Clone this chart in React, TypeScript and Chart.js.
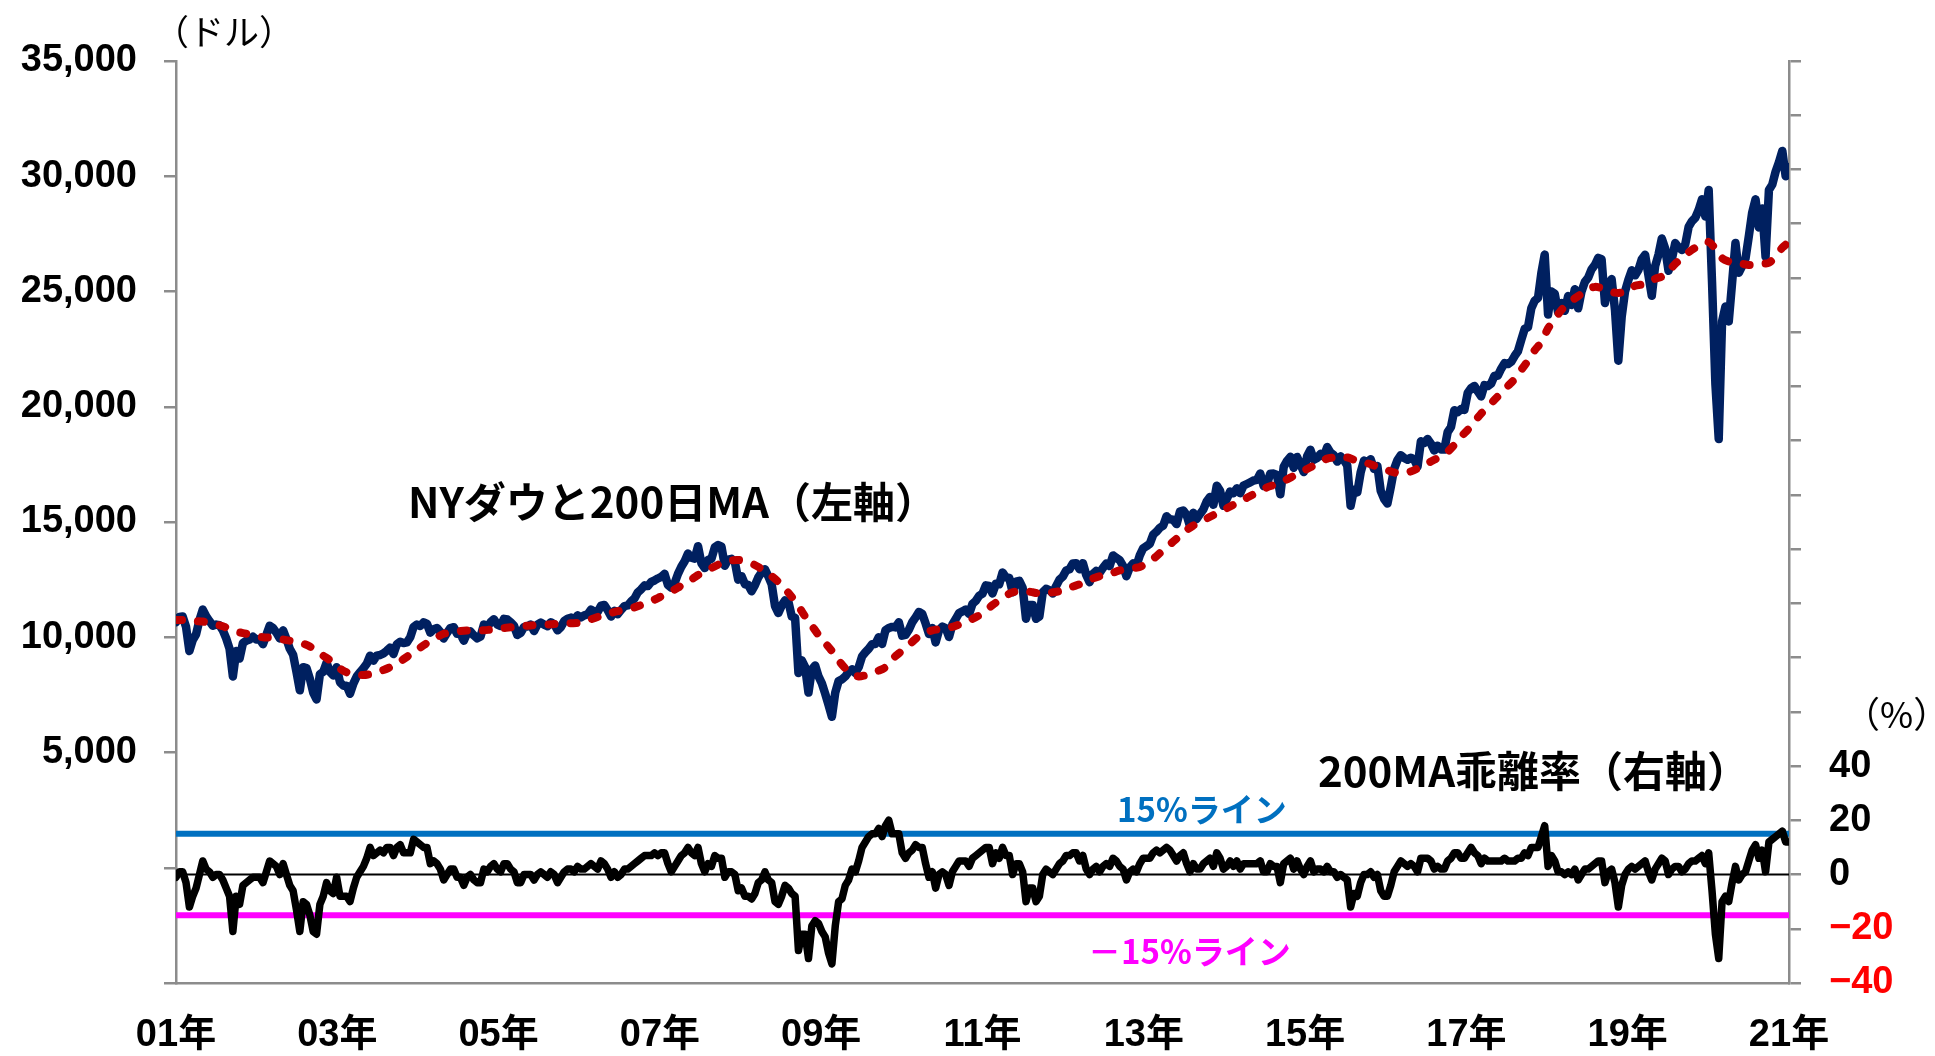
import React, { useEffect, useRef } from "react";
import { Chart, registerables } from "chart.js";

Chart.register(...registerables);

// Semi-monthly Dow closes (1st half, 2nd half of each month), Jan 2001 .. early Feb 2021
const DOW: number[] = [
  // 2001
  10650, 10880, 10900, 10450, 9400, 9880, 10130, 10735, 11200, 10910, 10700, 10500, 10550, 10520, 10300, 9950, 9500, 8300, 9400, 9075, 9750, 9850, 9900, 10021,
  // 2002
  9900, 9920, 9700, 10100, 10500, 10400, 10200, 9950, 10300, 9925, 9500, 9240, 8500, 7700, 8700, 8660, 8200, 7600, 7300, 8400, 8500, 8900, 8500, 8340,
  // 2003
  8700, 8050, 7900, 7900, 7550, 7990, 8300, 8480, 8650, 8850, 9200, 8985, 9200, 9230, 9300, 9415, 9550, 9275, 9700, 9800, 9750, 9780, 10000, 10450,
  // 2004
  10550, 10490, 10650, 10580, 10200, 10350, 10400, 10225, 9950, 10190, 10400, 10435, 10150, 10140, 9850, 10170, 10250, 10080, 9950, 10030, 10550, 10430, 10650, 10780,
  // 2005
  10550, 10490, 10800, 10770, 10650, 10500, 10100, 10190, 10450, 10470, 10550, 10275, 10550, 10640, 10550, 10480, 10650, 10570, 10300, 10440, 10700, 10800, 10850, 10718,
  // 2006
  10950, 10860, 10950, 10990, 11200, 11110, 11100, 11370, 11400, 11170, 10900, 11150, 11000, 11185, 11350, 11380, 11550, 11680, 11950, 12080, 12250, 12220, 12400, 12463,
  // 2007
  12550, 12620, 12750, 12270, 12150, 12350, 12750, 13060, 13300, 13630, 13450, 13410, 13950, 13210, 13000, 13360, 13400, 13900, 14000, 13930, 13100, 13370, 13400, 13265,
  // 2008
  12500, 12650, 12300, 12270, 12000, 12260, 12600, 12820, 12950, 12640, 12300, 11350, 11050, 11380, 11600, 11545, 10900, 10850, 8450, 9000, 8700, 7600, 8600, 8776,
  // 2009
  8300, 8000, 7550, 7060, 6550, 7600, 8100, 8170, 8300, 8500, 8600, 8450, 8700, 9170, 9350, 9500, 9700, 9710, 10000, 9710, 10300, 10400, 10450, 10428,
  // 2010
  10650, 10070, 10100, 10325, 10650, 10860, 11100, 11010, 10600, 10140, 10400, 9775, 10300, 10465, 10400, 10015, 10550, 10790, 11050, 11120, 11200, 11005, 11450, 11578,
  // 2011
  11800, 11890, 12250, 12225, 11900, 12320, 12300, 12810, 12600, 12570, 11950, 12415, 12450, 12140, 10800, 11400, 11400, 10800, 10900, 11950, 12100, 12045, 11900, 12218,
  // 2012
  12500, 12630, 12900, 12950, 13200, 13210, 12950, 13215, 12700, 12390, 12750, 12880, 12800, 13010, 13200, 13090, 13550, 13440, 13350, 13100, 12650, 13025, 13200, 13104,
  // 2013
  13550, 13860, 13950, 14055, 14450, 14580, 14750, 14840, 15250, 15115, 15100, 14910, 15450, 15500, 15300, 14810, 15400, 15130, 15350, 15545, 15900, 16086, 15750, 16577,
  // 2014
  16350, 15700, 16000, 16320, 16250, 16460, 16250, 16580, 16650, 16717, 16800, 16827, 17100, 16563, 16650, 17098, 17100, 17043, 16200, 17390, 17650, 17828, 17350, 17823,
  // 2015
  17500, 17165, 17850, 18133, 17700, 17776, 17950, 17841, 18250, 18011, 17900, 17620, 17850, 17690, 17450, 15700, 16400, 16285, 17150, 17664, 17600, 17720, 17300, 17425,
  // 2016
  16350, 16000, 15800, 16517, 17300, 17685, 17900, 17774, 17700, 17787, 17700, 17400, 18500, 18432, 18600, 18400, 18100, 18308, 18150, 18142, 18900, 19124, 19850, 19763,
  // 2017
  19900, 19864, 20600, 20812, 20900, 20663, 20450, 20940, 20900, 21009, 21350, 21350, 21650, 21891, 21850, 21948, 22200, 22405, 22900, 23377, 23450, 24272, 24600, 24719,
  // 2018
  25800, 26600, 24000, 25000, 24900, 24103, 24500, 24163, 24800, 24416, 25100, 24271, 25000, 25415, 25600, 25965, 26150, 26458, 26400, 24500, 25300, 25538, 24200, 22000,
  // 2019
  23900, 24999, 25500, 25916, 25700, 25929, 26400, 26593, 25700, 24815, 26100, 26600, 27300, 26864, 25900, 26403, 27100, 26917, 26800, 27046, 27800, 28051, 28200, 28538,
  // 2020
  29000, 28256, 29400, 25409, 21000, 18600, 23700, 24346, 23700, 25383, 27100, 25813, 26100, 26428, 27400, 28430, 29000, 27782, 28600, 26502, 29400, 29638, 30200, 30606,
  // 2021
  31100, 30000, 30400,
];

// Monthly 200-day moving average, Jan 2001 .. Feb 2021
const MA200: number[] = [
  10750, 10750, 10720, 10700, 10680, 10620, 10550, 10480, 10350, 10250, 10180, 10120,
  10050, 10000, 9980, 9950, 9900, 9850, 9800, 9720, 9600, 9400, 9200, 9000,
  8750, 8550, 8420, 8370, 8360, 8400, 8480, 8580, 8700, 8850, 9050, 9250,
  9450, 9650, 9850, 10000, 10150, 10200, 10250, 10280, 10300, 10300, 10300, 10330,
  10360, 10400, 10430, 10460, 10490, 10510, 10530, 10550, 10560, 10580, 10590, 10610,
  10620, 10700, 10780, 10880, 10980, 11060, 11130, 11180, 11250, 11350, 11450, 11570,
  11700, 11850, 12000, 12150, 12350, 12500, 12700, 12850, 13000, 13150, 13250, 13330,
  13350, 13300, 13200, 13050, 12850, 12650, 12400, 12100, 11750, 11350, 10900, 10500,
  10100, 9750, 9400, 9000, 8650, 8400, 8300, 8350, 8450, 8550, 8700, 9050,
  9300, 9550, 9800, 10050, 10200, 10300, 10350, 10400, 10450, 10550, 10680, 10800,
  10950, 11150, 11400, 11600, 11800, 11950, 12000, 12000, 11950, 11900, 11900, 11950,
  12000, 12100, 12200, 12300, 12450, 12550, 12650, 12700, 12800, 12900, 12950, 13000,
  13050, 13200, 13400, 13650, 13900, 14150, 14400, 14650, 14850, 15000, 15150, 15300,
  15450, 15600, 15750, 15900, 16050, 16200, 16350, 16500, 16600, 16700, 16850, 17000,
  17150, 17300, 17450, 17600, 17750, 17800, 17850, 17800, 17700, 17600, 17550, 17450,
  17350, 17250, 17150, 17100, 17150, 17250, 17400, 17550, 17700, 17850, 18050, 18350,
  18700, 19000, 19350, 19700, 20000, 20300, 20600, 20900, 21200, 21600, 22000, 22450,
  22800, 23400, 23800, 24200, 24500, 24700, 24900, 25100, 25200, 25150, 25050, 24950,
  24950, 25050, 25250, 25300, 25400, 25550, 25650, 25900, 26200, 26450, 26700, 26900,
  27050, 27150, 26850, 26450, 26300, 26250, 26200, 26150, 26150, 26200, 26250, 26500,
  26900, 27150,
];

// Semi-monthly deviation from the 200-day MA (%)
const DEVIATION: number[] = [
  // 2001
  -1, 1, 1, -3, -12, -8, -5, 0, 5, 2, 1, -1, 0, 0, -2, -5, -8, -21, -8, -11, -4, -3, -2, -1,
  // 2002
  -1, -1, -3, 1, 5, 4, 3, 0, 4, 0, -4, -6, -13, -21, -10, -11, -15, -21, -22, -11, -8, -3, -6, -7,
  // 2003
  -1, -8, -8, -8, -10, -5, -1, 1, 3, 6, 10, 7, 8, 9, 8, 10, 10, 7, 10, 11, 8, 8, 8, 13,
  // 2004
  12, 11, 10, 10, 4, 5, 4, 2, -2, 0, 2, 2, -1, -1, -4, -1, 0, -2, -3, -3, 2, 1, 3, 4,
  // 2005
  2, 1, 4, 4, 2, 1, -3, -3, 0, 0, 0, -2, 0, 1, 0, -1, 1, 0, -3, -1, 1, 2, 2, 1,
  // 2006
  3, 2, 2, 3, 4, 3, 2, 5, 4, 2, -1, 1, -1, 0, 2, 2, 3, 4, 5, 6, 7, 7, 7, 8,
  // 2007
  7, 8, 8, 4, 1, 3, 5, 7, 8, 10, 8, 7, 10, 4, 1, 4, 3, 7, 6, 6, -1, 1, 1, 0,
  // 2008
  -6, -5, -8, -8, -9, -7, -3, -2, 1, -2, -3, -10, -11, -8, -4, -5, -7, -8, -28, -22, -22, -31, -19, -17,
  // 2009
  -18, -21, -23, -29, -33, -19, -10, -9, -4, -2, 2, 1, 5, 10, 12, 14, 15, 15, 17, 14, 18, 20, 15, 15,
  // 2010
  15, 8, 6, 8, 9, 11, 10, 10, 4, -1, 1, -5, 0, 1, 0, -4, 1, 3, 5, 5, 5, 3, 6, 7,
  // 2011
  8, 9, 10, 10, 4, 8, 6, 10, 7, 7, 0, 4, 4, 1, -10, -5, -5, -10, -8, 0, 2, 1, 0, 2,
  // 2012
  4, 5, 7, 7, 8, 8, 5, 7, 2, 0, 2, 3, 1, 3, 4, 3, 6, 5, 3, 2, -2, 1, 2, 1,
  // 2013
  4, 6, 6, 6, 8, 9, 8, 9, 10, 9, 7, 5, 7, 8, 4, 1, 4, 2, 2, 4, 5, 6, 3, 8,
  // 2014
  6, 2, 3, 5, 3, 5, 2, 4, 4, 4, 4, 4, 5, 1, 1, 4, 3, 3, -3, 4, 5, 6, 2, 5,
  // 2015
  2, 0, 3, 5, 1, 2, 2, 1, 3, 1, 1, -1, 0, -1, -2, -12, -7, -8, -3, 0, 0, 1, -1, 0,
  // 2016
  -6, -8, -8, -4, 1, 3, 5, 4, 3, 4, 3, 1, 6, 6, 6, 5, 2, 3, 2, 2, 5, 6, 8, 8,
  // 2017
  6, 6, 8, 10, 8, 7, 4, 6, 5, 5, 5, 5, 5, 6, 5, 5, 5, 6, 6, 8, 7, 10, 10, 10,
  // 2018
  14, 18, 3, 7, 5, 1, 1, 0, 1, 0, 2, -2, 0, 2, 2, 3, 4, 5, 5, -3, 1, 2, -3, -12,
  // 2019
  -4, 0, 2, 3, 2, 3, 4, 5, 1, -2, 2, 4, 6, 5, 0, 2, 3, 3, 1, 2, 4, 5, 5, 6,
  // 2020
  7, 4, 8, -6, -22, -31, -10, -8, -10, -3, 3, -2, 0, 1, 5, 9, 11, 6, 9, 1, 12, 13, 14, 15,
  // 2021
  16, 12, 12,
];

const YEAR_LABELS: string[] = ["01年", "03年", "05年", "07年", "09年", "11年", "13年", "15年", "17年", "19年", "21年"];
const UPPER_LINE = 15;
const LOWER_LINE = -15;
const ZERO_LINE = 0;

const TEXT_UNIT_LEFT = "（ドル）";
const TEXT_UNIT_RIGHT = "（%）";
const TEXT_TITLE_DOW = "NYダウと200日MA（左軸）";
const TEXT_TITLE_DEV = "200MA乖離率（右軸）";
const TEXT_UPPER = "15%ライン";
const TEXT_LOWER = "－15%ライン";

const AXIS_GRAY = "#8c8c8c";
const TICK_FONT = { family: "'Liberation Sans', 'Noto Sans CJK JP', sans-serif", size: 38, weight: "bold" as const };
const CJK = "'Noto Sans CJK JP', sans-serif";

const textPlugin = {
  id: "texts",
  afterDraw(chart: any) {
    const ctx = chart.ctx as CanvasRenderingContext2D;
    ctx.save();
    ctx.textBaseline = "middle";
    ctx.textAlign = "left";
    const put = (t: string, x: number, y: number, font: string, color: string) => {
      ctx.font = font;
      ctx.fillStyle = color;
      ctx.fillText(t, x, y);
    };
    put(TEXT_UNIT_LEFT, 154, 32, `35px ${CJK}`, "#000");
    put(TEXT_UNIT_RIGHT, 1844, 714, `36px ${CJK}`, "#000");
    put(TEXT_TITLE_DOW, 408, 502, `bold 42px ${CJK}`, "#000");
    put(TEXT_TITLE_DEV, 1318, 771, `bold 42px ${CJK}`, "#000");
    put(TEXT_UPPER, 1117, 809, `bold 33px ${CJK}`, "#0070C0");
    put(TEXT_LOWER, 1088, 951, `bold 33px ${CJK}`, "#FF00FF");
    ctx.restore();
  },
};

export default function App() {
  const ref = useRef<HTMLCanvasElement | null>(null);

  useEffect(() => {
    if (!ref.current) return;
    const lastIdx = DOW.length - 1;
    const dowPts = DOW.map((y, i) => ({ x: i, y }));
    const maPts = MA200.map((y, j) => ({ x: j * 2, y }));
    const devPts = DEVIATION.map((y, i) => ({ x: i, y }));
    const hLine = (v: number) => [
      { x: 0, y: v },
      { x: lastIdx, y: v },
    ];

    const chart = new Chart(ref.current, {
      type: "line",
      data: {
        datasets: [
          {
            label: "200日MA",
            data: maPts,
            yAxisID: "y",
            borderColor: "#C00000",
            borderWidth: 8,
            borderDash: [6, 16],
            borderCapStyle: "round",
            pointRadius: 0,
            tension: 0.3,
          },
          {
            label: "NYダウ",
            data: dowPts,
            yAxisID: "y",
            borderColor: "#002060",
            borderWidth: 8.5,
            borderJoinStyle: "round",
            borderCapStyle: "round",
            pointRadius: 0,
          },
          {
            label: "乖離率",
            data: devPts,
            yAxisID: "y2",
            borderColor: "#000000",
            borderWidth: 7.5,
            borderJoinStyle: "round",
            borderCapStyle: "round",
            pointRadius: 0,
          },
          {
            label: "15%",
            data: hLine(UPPER_LINE),
            yAxisID: "y2",
            borderColor: "#0070C0",
            borderWidth: 6,
            pointRadius: 0,
          },
          {
            label: "-15%",
            data: hLine(LOWER_LINE),
            yAxisID: "y2",
            borderColor: "#FF00FF",
            borderWidth: 6,
            pointRadius: 0,
          },
          {
            label: "0",
            data: hLine(ZERO_LINE),
            yAxisID: "y2",
            borderColor: "#000000",
            borderWidth: 2,
            pointRadius: 0,
          },
        ],
      },
      options: {
        responsive: false,
        maintainAspectRatio: false,
        animation: false,
        events: [],
        layout: { padding: { top: 61, left: 0, right: 0, bottom: 0 } },
        plugins: { legend: { display: false }, tooltip: { enabled: false } },
        scales: {
          x: {
            type: "linear",
            min: 0,
            max: lastIdx,
            grid: { display: false, drawTicks: false },
            border: { display: true, color: AXIS_GRAY, width: 2.5 },
            afterBuildTicks: (scale: any) => {
              scale.ticks = YEAR_LABELS.map((_, k) => ({ value: (k * lastIdx) / (YEAR_LABELS.length - 1) }));
            },
            afterFit: (scale: any) => {
              scale.height = 73;
            },
            ticks: {
              autoSkip: false,
              maxRotation: 0,
              padding: 30,
              color: "#000",
              font: TICK_FONT,
              callback: (_v: any, i: number) => YEAR_LABELS[i],
            },
          },
          y: {
            type: "linear",
            position: "left",
            min: -5000,
            max: 35000,
            grid: { drawOnChartArea: false, drawTicks: true, tickLength: 12, color: AXIS_GRAY, lineWidth: 2.5 },
            border: { display: true, color: AXIS_GRAY, width: 2.5 },
            afterFit: (scale: any) => {
              scale.width = 176;
            },
            ticks: {
              stepSize: 5000,
              padding: 27,
              color: "#000",
              font: TICK_FONT,
              callback: (v: any) => (Number(v) > 0 ? Number(v).toLocaleString("en-US") : ""),
            },
          },
          y2: {
            type: "linear",
            position: "right",
            min: -40,
            max: 300,
            grid: { drawOnChartArea: false, drawTicks: true, tickLength: 12, color: AXIS_GRAY, lineWidth: 2.5 },
            border: { display: true, color: AXIS_GRAY, width: 2.5 },
            afterFit: (scale: any) => {
              scale.width = 146;
            },
            ticks: {
              stepSize: 20,
              padding: 28,
              font: TICK_FONT,
              color: (c: any) => (c.tick && c.tick.value < 0 ? "#FF0000" : "#000000"),
              callback: (v: any) => {
                const n = Number(v);
                if (n > 40) return "";
                return n < 0 ? "−" + Math.abs(n) : String(n);
              },
            },
          },
        },
      },
      plugins: [textPlugin],
    } as any);

    return () => chart.destroy();
  }, []);

  return (
    <div style={{ position: "absolute", left: 0, top: 0, width: 1935, height: 1056, background: "#fff" }}>
      <canvas ref={ref} width={1935} height={1056} style={{ display: "block" }} />
    </div>
  );
}
